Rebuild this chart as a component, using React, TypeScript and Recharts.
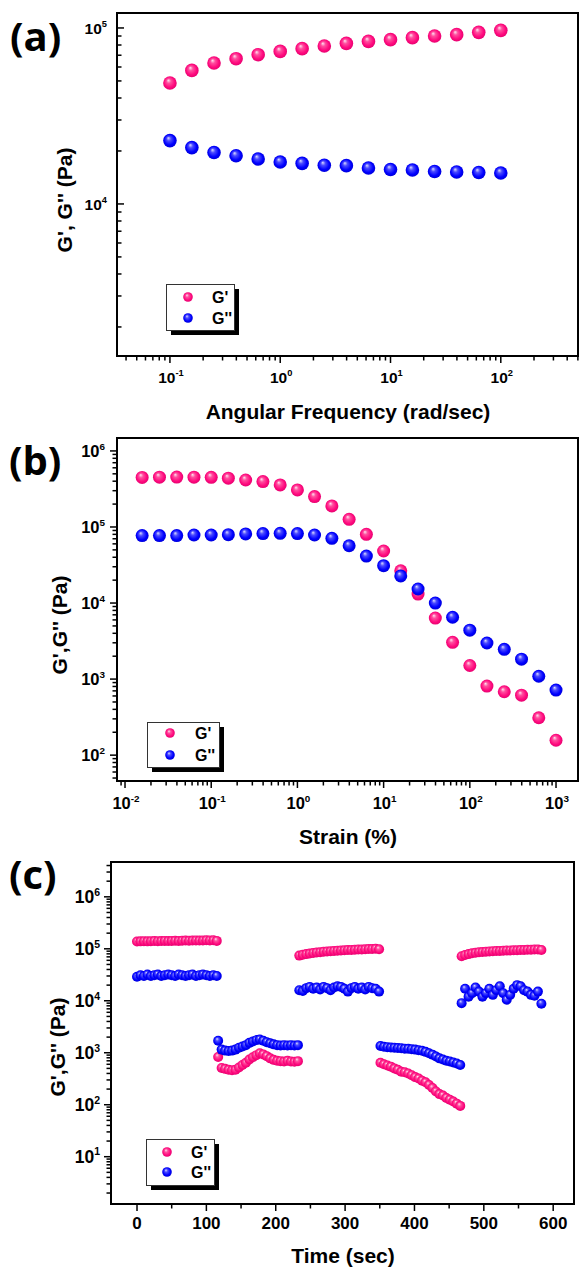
import { ScatterChart, Scatter, XAxis, YAxis, ReferenceArea, Legend } from 'recharts'

const PINK = '#ff0a7e'
const BLUE = '#0000ff'
const SANS = "'Liberation Sans', Arial, sans-serif"

// (a) frequency sweep
const freqA = [0.1, 0.158, 0.251, 0.398, 0.631, 1, 1.58, 2.51, 3.98, 6.31, 10, 15.8, 25.1, 39.8, 63.1, 100]
const gpA = [48700, 57400, 63200, 66900, 70500, 73600, 76300, 79000, 81700, 83900, 85800, 88100, 90000, 91600, 94400, 96900]
const gppA = [22900, 20900, 19600, 18800, 18000, 17300, 17000, 16600, 16500, 16000, 15700, 15600, 15300, 15200, 15100, 15000]

// (b) strain sweep
const strainB = [0.0158, 0.0251, 0.0398, 0.0631, 0.1, 0.158, 0.251, 0.398, 0.631, 1, 1.58, 2.51, 3.98, 6.31, 10, 15.8, 25.1, 39.8, 63.1, 100, 158, 251, 398, 631, 1000]
const gpB = [448000, 452000, 453000, 452000, 450000, 438000, 415000, 395000, 357000, 307000, 251000, 189000, 126000, 80000, 48300, 26600, 13100, 6350, 3040, 1510, 809, 681, 615, 310, 157]
const gppB = [77000, 77000, 77000, 78500, 78500, 79300, 81000, 82000, 82600, 82000, 78500, 71000, 56700, 41500, 31000, 22700, 15300, 10000, 6500, 4400, 2980, 2460, 1830, 1090, 716]

// (c) step strain recovery, five intervals
const t1 = [0, 5, 10, 15, 20, 25, 30, 35, 40, 45, 50, 55, 60, 65, 70, 75, 80, 85, 90, 95, 100, 105, 110, 115]
const t2 = [117, 122, 127, 132, 137, 142, 147, 152, 157, 162, 167, 172, 177, 182, 187, 192, 197, 202, 207, 212, 217, 222, 227, 232]
const t3 = [234, 239, 244, 249, 254, 259, 264, 269, 274, 279, 284, 289, 294, 299, 304, 309, 314, 319, 324, 329, 334, 339, 344, 349]
const t4 = [351, 356, 361, 366, 371, 376, 381, 386, 391, 396, 401, 406, 411, 416, 421, 426, 431, 436, 441, 446, 451, 456, 461, 466]
const t5 = [468, 473, 478, 483, 488, 493, 498, 503, 508, 513, 518, 523, 528, 533, 538, 543, 548, 553, 558, 563, 568, 573, 578, 583]

const gp1 = [138000, 139000, 140000, 139000, 140000, 141000, 140000, 141000, 142000, 141000, 142000, 143000, 142000, 143000, 144000, 143000, 144000, 145000, 144000, 145000, 146000, 145000, 146000, 142000]
const gpp1 = [29000, 31000, 30000, 32000, 30000, 31000, 32000, 30000, 31000, 32000, 31000, 30000, 32000, 31000, 30000, 31000, 32000, 30000, 31000, 32000, 31000, 30000, 31000, 30000]
const gp2 = [830, 510, 490, 470, 460, 470, 520, 580, 640, 740, 820, 900, 980, 930, 860, 780, 730, 700, 690, 680, 700, 680, 670, 690]
const gpp2 = [1700, 1150, 1100, 1080, 1100, 1150, 1250, 1320, 1400, 1550, 1650, 1750, 1800, 1700, 1600, 1520, 1450, 1400, 1380, 1400, 1380, 1400, 1380, 1400]
const gp3 = [74000, 77000, 79000, 81000, 83000, 85000, 86000, 88000, 89000, 90000, 91000, 92000, 93000, 94000, 95000, 95000, 96000, 97000, 97000, 98000, 99000, 99000, 100000, 98000]
const gpp3 = [16000, 15500, 17500, 18500, 17000, 18000, 16500, 18500, 17500, 16000, 18000, 19000, 18500, 17000, 15000, 17500, 18500, 17000, 18000, 16500, 18500, 17500, 17000, 15000]
const gp4 = [640, 600, 570, 540, 500, 470, 430, 420, 400, 370, 340, 320, 290, 270, 240, 210, 180, 160, 150, 135, 125, 115, 105, 95]
const gpp4 = [1350, 1300, 1280, 1260, 1250, 1230, 1220, 1200, 1190, 1170, 1150, 1120, 1090, 1040, 980, 920, 850, 780, 740, 700, 680, 650, 620, 580]
const gp5 = [72000, 76000, 79000, 82000, 84000, 86000, 87000, 88000, 89000, 90000, 91000, 91000, 92000, 93000, 93000, 94000, 94000, 95000, 95000, 96000, 96000, 97000, 97000, 95000]
const gpp5 = [9000, 17000, 12000, 14000, 18000, 15000, 12000, 14000, 17000, 13000, 16000, 19000, 14000, 10500, 13000, 17000, 20000, 19000, 16000, 15000, 13000, 12500, 15000, 8800]

const timeC = [...t1, ...t2, ...t3, ...t4, ...t5]
const gpC = [...gp1, ...gp2, ...gp3, ...gp4, ...gp5]
const gppC = [...gpp1, ...gpp2, ...gpp3, ...gpp4, ...gpp5]

const pts = (xs: number[], ys: number[]) => xs.map((x, i) => ({ x, y: ys[i] }))

// log ticks: decades + 2..9 minors inside [10^lo, 10^hi]
function logTicks(lo: number, hi: number) {
  const out: number[] = []
  for (let e = Math.floor(lo); e <= Math.ceil(hi); e++) {
    for (let m = 1; m < 10; m++) {
      const v = m * Math.pow(10, e)
      const l = Math.log10(v)
      if (l >= lo - 1e-9 && l <= hi + 1e-9) out.push(v)
    }
  }
  return out
}
const isDecade = (v: number) => {
  const l = Math.log10(v)
  return Math.abs(l - Math.round(l)) < 1e-6
}

function Pow10({ x, y, e, size, anchor }: any) {
  return (
    <text x={x} y={y} textAnchor={anchor} fontFamily={SANS} fontSize={size} fontWeight={700} fill="#000">
      10<tspan dy={-size * 0.45} fontSize={size * 0.6}>{e}</tspan>
    </text>
  )
}

const logYTick = (inward: boolean, size: number, gap: number) => (p: any) => {
  const { x, y, payload } = p
  const major = isDecade(payload.value)
  const d = inward ? 1 : -1
  return (
    <g>
      <line x1={x} x2={x + d * (major ? 7 : 4.5)} y1={y} y2={y} stroke="#000" strokeWidth={1.5} />
      {major && <Pow10 x={x - gap} y={y + size * 0.38} e={Math.round(Math.log10(payload.value))} size={size} anchor="end" />}
    </g>
  )
}

const logXTick = (size: number, dy: number) => (p: any) => {
  const { x, y, payload } = p
  const major = isDecade(payload.value)
  return (
    <g>
      <line x1={x} x2={x} y1={y} y2={y + (major ? 7 : 4.5)} stroke="#000" strokeWidth={1.5} />
      {major && <Pow10 x={x + 1} y={y + dy} e={Math.round(Math.log10(payload.value))} size={size} anchor="middle" />}
    </g>
  )
}

const linXTick = (p: any) => {
  const { x, y, payload } = p
  const major = payload.value % 100 === 0
  return (
    <g>
      <line x1={x} x2={x} y1={y} y2={y + (major ? 7 : 4.5)} stroke="#000" strokeWidth={1.5} />
      {major && (
        <text x={x} y={y + 25} textAnchor="middle" fontFamily={SANS} fontSize={17} fontWeight={700}>
          {payload.value}
        </text>
      )}
    </g>
  )
}

const ball = (id: string, r: number) => (p: any) => <circle cx={p.cx} cy={p.cy} r={r} fill={`url(#${id})`} />

const legendBox = (w: number, h: number, mx: number, tx: number, rows: number[]) => (props: any) => {
  const items = props.payload || []
  return (
    <svg width={w + 8} height={h + 8} style={{ display: 'block' }}>
      <rect x={5} y={5} width={w} height={h} fill="#000" />
      <rect x={0.5} y={0.5} width={w} height={h} fill="#fff" stroke="#333" strokeWidth={1} />
      {items.map((it: any, i: number) => (
        <g key={i}>
          <circle cx={mx} cy={rows[i]} r={4.8} fill={`url(#${it.color === PINK ? 'ballPink' : 'ballBlue'})`} />
          <text x={tx} y={rows[i] + 5.5} fontFamily={SANS} fontSize={16} fontWeight={700}>
            {it.value}
          </text>
        </g>
      ))}
    </svg>
  )
}

const domA = { x: [Math.pow(10, -1.48), Math.pow(10, 2.7)], y: [Math.pow(10, 3.136), Math.pow(10, 5.085)] }
const domB = { x: [Math.pow(10, -2.093), Math.pow(10, 3.255)], y: [Math.pow(10, 1.66), Math.pow(10, 6.17)] }
const domC = { x: [-37.5, 630], y: [Math.pow(10, 0.09), Math.pow(10, 6.67)] }
const ticksCX = [0, 50, 100, 150, 200, 250, 300, 350, 400, 450, 500, 550, 600]

function Box({ d }: any) {
  return (
    <ReferenceArea x1={d.x[0]} x2={d.x[1]} y1={d.y[0]} y2={d.y[1]} fill="none" stroke="#000" strokeWidth={2} ifOverflow="visible" />
  )
}

export default function App() {
  return (
    <div style={{ position: 'absolute', left: 0, top: 0, width: 579, height: 1267, background: '#fff' }}>
      <svg width={0} height={0} style={{ position: 'absolute' }}>
        <defs>
          <radialGradient id="ballPink" cx="50%" cy="50%" r="55%" fx="38%" fy="30%">
            <stop offset="0%" stopColor="#ffe4f0" />
            <stop offset="30%" stopColor="#ff4f9f" />
            <stop offset="70%" stopColor="#ff0a7e" />
            <stop offset="100%" stopColor="#e0006c" />
          </radialGradient>
          <radialGradient id="ballBlue" cx="50%" cy="50%" r="55%" fx="38%" fy="30%">
            <stop offset="0%" stopColor="#dcdcff" />
            <stop offset="30%" stopColor="#4a4aff" />
            <stop offset="70%" stopColor="#0000ff" />
            <stop offset="100%" stopColor="#0000d0" />
          </radialGradient>
        </defs>
      </svg>

      {/* (a) */}
      <div style={{ position: 'absolute', left: 0, top: 0 }}>
        <ScatterChart width={579} height={420} margin={{ top: 13, right: 1, bottom: 63, left: 116 }}>
          <XAxis dataKey="x" type="number" scale="log" domain={domA.x} allowDataOverflow ticks={logTicks(-1.48, 2.7)} interval={0}
            axisLine={false} tickLine={false} tickSize={0} tickMargin={0} height={1} tick={logXTick(15.5, 27)} />
          <YAxis dataKey="y" type="number" scale="log" domain={domA.y} allowDataOverflow ticks={logTicks(3.136, 5.085)} interval={0}
            axisLine={false} tickLine={false} tickSize={0} tickMargin={0} width={1} tick={logYTick(true, 15.5, 10)} />
          <Box d={domA} />
          <Scatter name="G'" data={pts(freqA, gpA)} fill={PINK} shape={ball('ballPink', 6.8)} isAnimationActive={false} />
          <Scatter name="G''" data={pts(freqA, gppA)} fill={BLUE} shape={ball('ballBlue', 6.8)} isAnimationActive={false} />
          <Legend layout="horizontal" verticalAlign="middle" align="center"
            wrapperStyle={{ left: 166, top: 284, width: 80, height: 56 }} content={legendBox(68, 46, 22, 46, [13, 34])} />
        </ScatterChart>
      </div>

      {/* (b) */}
      <div style={{ position: 'absolute', left: 0, top: 420 }}>
        <ScatterChart width={579} height={440} margin={{ top: 18, right: 1, bottom: 78, left: 116 }}>
          <XAxis dataKey="x" type="number" scale="log" domain={domB.x} allowDataOverflow ticks={logTicks(-2.093, 3.255)} interval={0}
            axisLine={false} tickLine={false} tickSize={0} tickMargin={0} height={1} tick={logXTick(16.5, 28)} />
          <YAxis dataKey="y" type="number" scale="log" domain={domB.y} allowDataOverflow ticks={logTicks(1.66, 6.17)} interval={0}
            axisLine={false} tickLine={false} tickSize={0} tickMargin={0} width={1} tick={logYTick(false, 16.5, 12)} />
          <Box d={domB} />
          <Scatter name="G'" data={pts(strainB, gpB)} fill={PINK} shape={ball('ballPink', 6.5)} isAnimationActive={false} />
          <Scatter name="G''" data={pts(strainB, gppB)} fill={BLUE} shape={ball('ballBlue', 6.5)} isAnimationActive={false} />
          <Legend layout="horizontal" verticalAlign="middle" align="center"
            wrapperStyle={{ left: 147, top: 302, width: 85, height: 56 }} content={legendBox(72, 45, 23, 48, [11, 33])} />
        </ScatterChart>
      </div>

      {/* (c) */}
      <div style={{ position: 'absolute', left: 0, top: 840 }}>
        <ScatterChart width={579} height={427} margin={{ top: 22, right: 5, bottom: 62, left: 110 }}>
          <XAxis dataKey="x" type="number" domain={domC.x} allowDataOverflow ticks={ticksCX} interval={0}
            axisLine={false} tickLine={false} tickSize={0} tickMargin={0} height={1} tick={linXTick} />
          <YAxis dataKey="y" type="number" scale="log" domain={domC.y} allowDataOverflow ticks={logTicks(0.09, 6.67)} interval={0}
            axisLine={false} tickLine={false} tickSize={0} tickMargin={0} width={1} tick={logYTick(false, 17.5, 11)} />
          <Box d={domC} />
          <Scatter name="G'" data={pts(timeC, gpC)} fill={PINK} shape={ball('ballPink', 5)} isAnimationActive={false} />
          <Scatter name="G''" data={pts(timeC, gppC)} fill={BLUE} shape={ball('ballBlue', 5)} isAnimationActive={false} />
          <Legend layout="horizontal" verticalAlign="middle" align="center"
            wrapperStyle={{ left: 146, top: 299, width: 80, height: 56 }} content={legendBox(68, 46, 21, 45, [13, 33])} />
        </ScatterChart>
      </div>

      {/* panel letters and axis titles */}
      <svg width={579} height={1267} style={{ position: 'absolute', left: 0, top: 0, pointerEvents: 'none' }}>
        <g fontFamily="'Open Sans', sans-serif" fontWeight={700} fontSize={40}>
          <text x={10} y={51}>(a)</text>
          <text x={9} y={475}>(b)</text>
          <text x={9} y={889}>(c)</text>
        </g>
        <g fontFamily={SANS} fontWeight={700} fontSize={21} textAnchor="middle">
          <text x={348} y={419}>Angular Frequency (rad/sec)</text>
          <text x={348} y={844}>Strain (%)</text>
          <text x={343} y={1263}>Time (sec)</text>
          <text x={72} y={200} transform="rotate(-90 72 200)">G', G'' (Pa)</text>
          <text x={67} y={625} transform="rotate(-90 67 625)">G',G'' (Pa)</text>
          <text x={65} y={1047} transform="rotate(-90 65 1047)">G',G'' (Pa)</text>
        </g>
      </svg>
    </div>
  )
}
